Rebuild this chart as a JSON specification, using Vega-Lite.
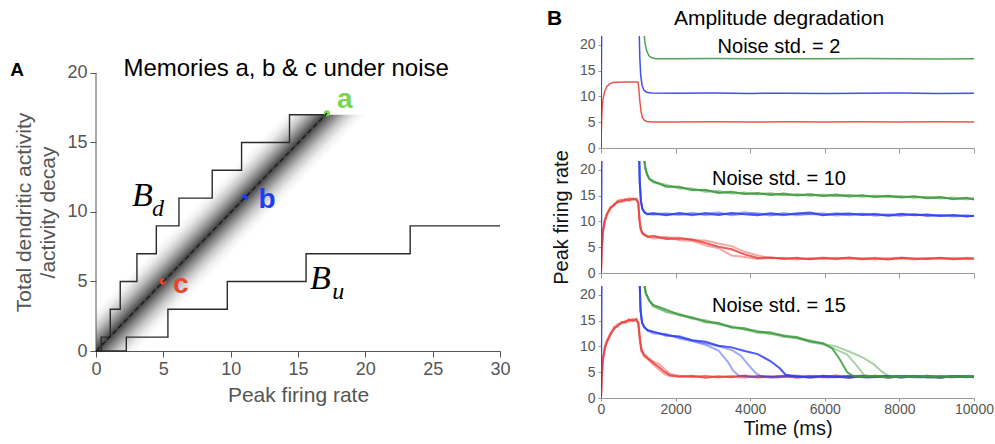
{
"$schema":"https://vega.github.io/schema/vega-lite/v6.json",
"padding":{"left":10,"top":7,"right":0,"bottom":0},
"config":{"view":{"stroke":null},"font":"Liberation Sans","axis":{"grid":false,"labelFlush":false,"titleFontWeight":"normal"}},
"spacing":35,
"datasets":{
"s1c":[{"t":0,"v":0},{"t":10,"v":3.8},{"t":25,"v":7},{"t":50,"v":9.3},{"t":100,"v":11},{"t":160,"v":11.9},{"t":230,"v":12.4},{"t":320,"v":12.7},{"t":450,"v":12.75},{"t":700,"v":12.78},{"t":990,"v":12.76},{"t":1010,"v":11.8},{"t":1040,"v":9.2},{"t":1075,"v":7},{"t":1110,"v":5.9},{"t":1160,"v":5.4},{"t":1230,"v":5.15},{"t":1350,"v":5.05},{"t":2000,"v":5.04},{"t":3000,"v":5.08},{"t":4000,"v":5.02},{"t":5000,"v":5.06},{"t":6000,"v":5.03},{"t":7000,"v":5.07},{"t":8000,"v":5.02},{"t":9000,"v":5.06},{"t":10000,"v":5.04}],
"s1b":[{"t":0,"v":0},{"t":30,"v":40},{"t":1000,"v":40},{"t":1020,"v":24},{"t":1040,"v":17.5},{"t":1065,"v":14},{"t":1100,"v":12.2},{"t":1150,"v":11.2},{"t":1220,"v":10.8},{"t":1350,"v":10.65},{"t":2000,"v":10.6},{"t":3000,"v":10.63},{"t":4000,"v":10.57},{"t":5000,"v":10.62},{"t":6000,"v":10.57},{"t":7000,"v":10.61},{"t":8000,"v":10.63},{"t":9000,"v":10.57},{"t":10000,"v":10.6}],
"s1a":[{"t":1100,"v":40},{"t":1150,"v":22.5},{"t":1180,"v":20.3},{"t":1220,"v":18.9},{"t":1280,"v":17.9},{"t":1360,"v":17.45},{"t":1480,"v":17.3},{"t":2000,"v":17.28},{"t":3000,"v":17.31},{"t":4000,"v":17.26},{"t":5000,"v":17.3},{"t":6000,"v":17.26},{"t":7000,"v":17.31},{"t":8000,"v":17.27},{"t":9000,"v":17.25},{"t":10000,"v":17.28}],
"s2c1":[{"t":0,"v":0},{"t":20,"v":4.6},{"t":50,"v":7.9},{"t":100,"v":10.1},{"t":160,"v":11.5},{"t":250,"v":12.6},{"t":350,"v":13.2},{"t":450,"v":13.9},{"t":550,"v":13.8},{"t":650,"v":14.3},{"t":750,"v":14.0},{"t":850,"v":14.4},{"t":950,"v":14.2},{"t":1000,"v":13.6},{"t":1030,"v":10.4},{"t":1060,"v":8.7},{"t":1100,"v":7.8},{"t":1170,"v":7.4},{"t":1250,"v":7.0},{"t":1400,"v":7.1},{"t":1750,"v":6.6},{"t":2100,"v":6.7},{"t":2450,"v":6.5},{"t":2800,"v":5.8},{"t":3150,"v":5.1},{"t":3500,"v":4.6},{"t":3850,"v":3.6},{"t":4200,"v":2.9},{"t":4550,"v":3.0},{"t":4900,"v":2.7},{"t":5250,"v":2.95},{"t":5600,"v":2.65},{"t":5950,"v":2.9},{"t":6300,"v":2.75},{"t":6650,"v":3.0},{"t":7000,"v":2.65},{"t":7350,"v":2.85},{"t":7700,"v":2.6},{"t":8050,"v":2.95},{"t":8400,"v":2.8},{"t":8750,"v":2.7},{"t":9100,"v":2.95},{"t":9450,"v":2.65},{"t":9800,"v":2.85},{"t":10000,"v":2.75}],
"s2c2":[{"t":0,"v":0},{"t":20,"v":4.3},{"t":50,"v":7.6},{"t":100,"v":9.8},{"t":160,"v":11.2},{"t":250,"v":12.3},{"t":350,"v":13.4},{"t":450,"v":13.6},{"t":550,"v":14.1},{"t":650,"v":13.9},{"t":750,"v":14.4},{"t":850,"v":14.1},{"t":950,"v":14.5},{"t":1000,"v":13.8},{"t":1030,"v":10.7},{"t":1060,"v":8.9},{"t":1100,"v":7.6},{"t":1170,"v":7.2},{"t":1250,"v":7.2},{"t":1400,"v":6.7},{"t":1750,"v":6.95},{"t":2100,"v":6.35},{"t":2450,"v":6.2},{"t":2800,"v":5.35},{"t":3150,"v":4.8},{"t":3500,"v":3.4},{"t":3850,"v":3.1},{"t":4200,"v":2.7},{"t":4550,"v":2.95},{"t":4900,"v":2.85},{"t":5250,"v":2.6},{"t":5600,"v":2.9},{"t":5950,"v":2.7},{"t":6300,"v":2.95},{"t":6650,"v":2.75},{"t":7000,"v":2.85},{"t":7350,"v":2.6},{"t":7700,"v":2.9},{"t":8050,"v":2.95},{"t":8400,"v":2.7},{"t":8750,"v":2.85},{"t":9100,"v":2.75},{"t":9450,"v":2.95},{"t":9800,"v":2.65},{"t":10000,"v":2.8}],
"s2c3":[{"t":0,"v":0},{"t":20,"v":4.8},{"t":50,"v":8.0},{"t":100,"v":10.3},{"t":160,"v":11.3},{"t":250,"v":12.8},{"t":350,"v":13.0},{"t":450,"v":14.0},{"t":550,"v":14.2},{"t":650,"v":14.0},{"t":750,"v":14.5},{"t":850,"v":14.3},{"t":950,"v":14.1},{"t":1000,"v":13.5},{"t":1030,"v":10.2},{"t":1060,"v":8.5},{"t":1100,"v":7.9},{"t":1170,"v":7.5},{"t":1250,"v":6.9},{"t":1400,"v":7.2},{"t":1750,"v":6.8},{"t":2100,"v":6.85},{"t":2450,"v":6.4},{"t":2800,"v":6.3},{"t":3150,"v":5.7},{"t":3500,"v":5.2},{"t":3850,"v":4.1},{"t":4200,"v":3.4},{"t":4550,"v":2.85},{"t":4900,"v":2.95},{"t":5250,"v":2.75},{"t":5600,"v":2.7},{"t":5950,"v":3.0},{"t":6300,"v":2.65},{"t":6650,"v":2.85},{"t":7000,"v":2.8},{"t":7350,"v":2.95},{"t":7700,"v":2.7},{"t":8050,"v":2.8},{"t":8400,"v":2.6},{"t":8750,"v":2.9},{"t":9100,"v":2.8},{"t":9450,"v":2.7},{"t":9800,"v":2.95},{"t":10000,"v":2.8}],
"s2b1":[{"t":0,"v":0},{"t":30,"v":40},{"t":1000,"v":40},{"t":1020,"v":24},{"t":1040,"v":17.5},{"t":1070,"v":13.9},{"t":1110,"v":12.4},{"t":1170,"v":11.7},{"t":1250,"v":11.4},{"t":1400,"v":11.5},{"t":1750,"v":11.2},{"t":2100,"v":11.6},{"t":2450,"v":11.3},{"t":2800,"v":11.55},{"t":3150,"v":11.25},{"t":3500,"v":11.6},{"t":3850,"v":11.35},{"t":4200,"v":11.2},{"t":4550,"v":11.55},{"t":4900,"v":11.3},{"t":5250,"v":11.45},{"t":5600,"v":11.7},{"t":5950,"v":11.2},{"t":6300,"v":11.4},{"t":6650,"v":11.5},{"t":7000,"v":11.25},{"t":7350,"v":11.35},{"t":7700,"v":11.1},{"t":8050,"v":11.45},{"t":8400,"v":11.2},{"t":8750,"v":11.3},{"t":9100,"v":11.05},{"t":9450,"v":11.25},{"t":9800,"v":10.95},{"t":10000,"v":11.1}],
"s2b2":[{"t":1000,"v":40},{"t":1020,"v":24},{"t":1040,"v":17.5},{"t":1070,"v":13.9},{"t":1110,"v":12.4},{"t":1170,"v":11.7},{"t":1250,"v":11.4},{"t":1400,"v":11.3},{"t":1750,"v":11.55},{"t":2100,"v":11.25},{"t":2450,"v":11.65},{"t":2800,"v":11.2},{"t":3150,"v":11.45},{"t":3500,"v":11.35},{"t":3850,"v":11.75},{"t":4200,"v":11.4},{"t":4550,"v":11.15},{"t":4900,"v":11.6},{"t":5250,"v":11.2},{"t":5600,"v":11.4},{"t":5950,"v":11.55},{"t":6300,"v":11.15},{"t":6650,"v":11.3},{"t":7000,"v":11.5},{"t":7350,"v":11.1},{"t":7700,"v":11.35},{"t":8050,"v":11.2},{"t":8400,"v":11.4},{"t":8750,"v":11.0},{"t":9100,"v":11.25},{"t":9450,"v":11.1},{"t":9800,"v":11.2},{"t":10000,"v":11.0}],
"s2b3":[{"t":1000,"v":40},{"t":1020,"v":24},{"t":1040,"v":17.5},{"t":1070,"v":13.9},{"t":1110,"v":12.4},{"t":1170,"v":11.7},{"t":1250,"v":11.4},{"t":1400,"v":11.6},{"t":1750,"v":11.35},{"t":2100,"v":11.4},{"t":2450,"v":11.2},{"t":2800,"v":11.5},{"t":3150,"v":11.7},{"t":3500,"v":11.2},{"t":3850,"v":11.45},{"t":4200,"v":11.55},{"t":4550,"v":11.3},{"t":4900,"v":11.2},{"t":5250,"v":11.6},{"t":5600,"v":11.35},{"t":5950,"v":11.3},{"t":6300,"v":11.55},{"t":6650,"v":11.2},{"t":7000,"v":11.4},{"t":7350,"v":11.45},{"t":7700,"v":11.2},{"t":8050,"v":11.1},{"t":8400,"v":11.35},{"t":8750,"v":11.15},{"t":9100,"v":11.2},{"t":9450,"v":10.95},{"t":9800,"v":11.1},{"t":10000,"v":11.05}],
"s2a1":[{"t":1100,"v":40},{"t":1150,"v":22.5},{"t":1190,"v":20.2},{"t":1240,"v":19.0},{"t":1300,"v":18.2},{"t":1400,"v":17.8},{"t":1750,"v":16.7},{"t":2100,"v":16.7},{"t":2450,"v":16.0},{"t":2800,"v":16.1},{"t":3150,"v":15.5},{"t":3500,"v":15.75},{"t":3850,"v":15.3},{"t":4200,"v":15.5},{"t":4550,"v":15.1},{"t":4900,"v":15.4},{"t":5250,"v":15.0},{"t":5600,"v":15.25},{"t":5950,"v":14.9},{"t":6300,"v":15.2},{"t":6650,"v":14.8},{"t":7000,"v":15.05},{"t":7350,"v":14.7},{"t":7700,"v":14.95},{"t":8050,"v":14.6},{"t":8400,"v":14.85},{"t":8750,"v":14.45},{"t":9100,"v":14.7},{"t":9450,"v":14.3},{"t":9800,"v":14.55},{"t":10000,"v":14.2}],
"s2a2":[{"t":1100,"v":40},{"t":1150,"v":22.5},{"t":1190,"v":20.2},{"t":1240,"v":19.0},{"t":1300,"v":18.2},{"t":1400,"v":17.5},{"t":1750,"v":17.1},{"t":2100,"v":16.3},{"t":2450,"v":16.35},{"t":2800,"v":15.7},{"t":3150,"v":15.9},{"t":3500,"v":15.35},{"t":3850,"v":15.6},{"t":4200,"v":15.2},{"t":4550,"v":15.45},{"t":4900,"v":15.05},{"t":5250,"v":15.3},{"t":5600,"v":14.9},{"t":5950,"v":15.2},{"t":6300,"v":14.85},{"t":6650,"v":15.1},{"t":7000,"v":14.75},{"t":7350,"v":15.0},{"t":7700,"v":14.65},{"t":8050,"v":14.9},{"t":8400,"v":14.55},{"t":8750,"v":14.75},{"t":9100,"v":14.4},{"t":9450,"v":14.6},{"t":9800,"v":14.25},{"t":10000,"v":14.45}],
"s2a3":[{"t":1100,"v":40},{"t":1150,"v":22.5},{"t":1190,"v":20.2},{"t":1240,"v":19.0},{"t":1300,"v":18.2},{"t":1400,"v":17.7},{"t":1750,"v":16.85},{"t":2100,"v":16.6},{"t":2450,"v":16.2},{"t":2800,"v":15.95},{"t":3150,"v":15.65},{"t":3500,"v":15.6},{"t":3850,"v":15.4},{"t":4200,"v":15.3},{"t":4550,"v":15.35},{"t":4900,"v":15.15},{"t":5250,"v":15.1},{"t":5600,"v":15.2},{"t":5950,"v":15.0},{"t":6300,"v":14.95},{"t":6650,"v":15.05},{"t":7000,"v":14.9},{"t":7350,"v":14.8},{"t":7700,"v":14.9},{"t":8050,"v":14.7},{"t":8400,"v":14.75},{"t":8750,"v":14.55},{"t":9100,"v":14.6},{"t":9450,"v":14.4},{"t":9800,"v":14.45},{"t":10000,"v":14.3}],
"s3c1":[{"t":0,"v":0},{"t":20,"v":4.0},{"t":50,"v":7.3},{"t":100,"v":9.6},{"t":150,"v":10.6},{"t":250,"v":12.3},{"t":350,"v":13.5},{"t":450,"v":13.9},{"t":550,"v":14.7},{"t":650,"v":14.6},{"t":750,"v":15.2},{"t":850,"v":14.9},{"t":950,"v":15.3},{"t":1000,"v":14.5},{"t":1040,"v":11.6},{"t":1080,"v":9.4},{"t":1150,"v":8.3},{"t":1250,"v":7.7},{"t":1400,"v":6.8},{"t":1550,"v":6.0},{"t":1700,"v":5.1},{"t":1850,"v":4.4},{"t":2100,"v":4.1},{"t":2450,"v":4.3},{"t":2800,"v":3.9},{"t":3150,"v":4.2},{"t":3500,"v":4.0},{"t":3850,"v":4.35},{"t":4200,"v":3.95},{"t":4550,"v":4.15},{"t":4900,"v":4.3},{"t":5250,"v":3.9},{"t":5600,"v":4.2},{"t":5950,"v":4.05},{"t":6300,"v":4.35},{"t":6650,"v":3.95},{"t":7000,"v":4.15},{"t":7350,"v":4.25},{"t":7700,"v":3.9},{"t":8050,"v":4.2},{"t":8400,"v":4.1},{"t":8750,"v":4.3},{"t":9100,"v":3.95},{"t":9450,"v":4.2},{"t":9800,"v":4.05},{"t":10000,"v":4.15}],
"s3c2":[{"t":0,"v":0},{"t":20,"v":4.4},{"t":50,"v":7.7},{"t":100,"v":9.3},{"t":150,"v":11.0},{"t":250,"v":12.0},{"t":350,"v":13.8},{"t":450,"v":14.2},{"t":550,"v":14.4},{"t":650,"v":15.0},{"t":750,"v":14.8},{"t":850,"v":15.3},{"t":950,"v":15.0},{"t":1000,"v":14.3},{"t":1040,"v":11.2},{"t":1080,"v":9.0},{"t":1150,"v":8.6},{"t":1250,"v":7.9},{"t":1400,"v":7.1},{"t":1550,"v":6.6},{"t":1700,"v":5.6},{"t":1850,"v":4.7},{"t":2100,"v":4.3},{"t":2450,"v":4.0},{"t":2800,"v":4.25},{"t":3150,"v":3.95},{"t":3500,"v":4.3},{"t":3850,"v":4.1},{"t":4200,"v":4.2},{"t":4550,"v":3.9},{"t":4900,"v":4.15},{"t":5250,"v":4.35},{"t":5600,"v":4.0},{"t":5950,"v":4.2},{"t":6300,"v":3.95},{"t":6650,"v":4.25},{"t":7000,"v":4.05},{"t":7350,"v":4.3},{"t":7700,"v":4.1},{"t":8050,"v":3.95},{"t":8400,"v":4.25},{"t":8750,"v":4.0},{"t":9100,"v":4.3},{"t":9450,"v":4.05},{"t":9800,"v":4.2},{"t":10000,"v":4.1}],
"s3c3":[{"t":0,"v":0},{"t":20,"v":3.8},{"t":50,"v":7.0},{"t":100,"v":9.9},{"t":150,"v":10.9},{"t":250,"v":12.6},{"t":350,"v":13.2},{"t":450,"v":14.3},{"t":550,"v":14.5},{"t":650,"v":14.8},{"t":750,"v":15.0},{"t":850,"v":15.2},{"t":950,"v":14.9},{"t":1000,"v":14.7},{"t":1040,"v":12.0},{"t":1080,"v":9.7},{"t":1150,"v":8.1},{"t":1250,"v":7.5},{"t":1400,"v":6.5},{"t":1550,"v":5.5},{"t":1700,"v":4.6},{"t":1850,"v":4.2},{"t":2100,"v":4.2},{"t":2450,"v":4.05},{"t":2800,"v":4.3},{"t":3150,"v":4.0},{"t":3500,"v":4.15},{"t":3850,"v":3.9},{"t":4200,"v":4.3},{"t":4550,"v":4.1},{"t":4900,"v":4.0},{"t":5250,"v":4.2},{"t":5600,"v":4.3},{"t":5950,"v":3.95},{"t":6300,"v":4.1},{"t":6650,"v":4.2},{"t":7000,"v":4.35},{"t":7350,"v":4.0},{"t":7700,"v":4.15},{"t":8050,"v":4.3},{"t":8400,"v":3.95},{"t":8750,"v":4.2},{"t":9100,"v":4.1},{"t":9450,"v":3.95},{"t":9800,"v":4.25},{"t":10000,"v":4.1}],
"s3b1":[{"t":0,"v":0},{"t":30,"v":40},{"t":1000,"v":40},{"t":1030,"v":24},{"t":1060,"v":17},{"t":1100,"v":14.6},{"t":1160,"v":13.7},{"t":1250,"v":13.1},{"t":1400,"v":12.8},{"t":1750,"v":12.2},{"t":2100,"v":11.8},{"t":2450,"v":11.2},{"t":2800,"v":10.9},{"t":3150,"v":10.1},{"t":3500,"v":9.8},{"t":3850,"v":9.1},{"t":4200,"v":8.5},{"t":4550,"v":7.1},{"t":4800,"v":5.7},{"t":4950,"v":4.5},{"t":5250,"v":4.2},{"t":5600,"v":3.95},{"t":5950,"v":4.3},{"t":6300,"v":4.1},{"t":6650,"v":3.9},{"t":7000,"v":4.25},{"t":7350,"v":4.05},{"t":7700,"v":4.3},{"t":8050,"v":3.95},{"t":8400,"v":4.2},{"t":8750,"v":4.05},{"t":9100,"v":3.9},{"t":9450,"v":4.25},{"t":9800,"v":4.0},{"t":10000,"v":4.15}],
"s3b2":[{"t":1000,"v":40},{"t":1030,"v":24},{"t":1060,"v":17},{"t":1100,"v":14.6},{"t":1160,"v":13.7},{"t":1250,"v":13.1},{"t":1400,"v":12.5},{"t":1750,"v":12.4},{"t":2100,"v":11.5},{"t":2450,"v":11.0},{"t":2800,"v":10.3},{"t":3150,"v":9.2},{"t":3400,"v":7.0},{"t":3550,"v":5.2},{"t":3700,"v":4.3},{"t":4000,"v":4.05},{"t":4350,"v":4.25},{"t":4700,"v":3.95},{"t":5050,"v":4.2},{"t":5400,"v":4.05},{"t":5750,"v":4.3},{"t":6100,"v":3.95},{"t":6450,"v":4.15},{"t":6800,"v":4.3},{"t":7150,"v":3.9},{"t":7500,"v":4.2},{"t":7850,"v":4.1},{"t":8200,"v":4.3},{"t":8550,"v":3.95},{"t":8900,"v":4.2},{"t":9250,"v":4.05},{"t":9600,"v":4.25},{"t":10000,"v":4.0}],
"s3b3":[{"t":1000,"v":40},{"t":1030,"v":24},{"t":1060,"v":17},{"t":1100,"v":14.6},{"t":1160,"v":13.7},{"t":1250,"v":13.1},{"t":1400,"v":12.9},{"t":1750,"v":12.0},{"t":2100,"v":12.0},{"t":2450,"v":11.1},{"t":2800,"v":10.6},{"t":3150,"v":10.0},{"t":3500,"v":9.3},{"t":3750,"v":8.2},{"t":3950,"v":6.4},{"t":4150,"v":4.8},{"t":4300,"v":4.2},{"t":4600,"v":4.0},{"t":4950,"v":4.3},{"t":5300,"v":4.1},{"t":5650,"v":3.9},{"t":6000,"v":4.2},{"t":6350,"v":4.05},{"t":6700,"v":4.3},{"t":7050,"v":3.95},{"t":7400,"v":4.15},{"t":7750,"v":4.0},{"t":8100,"v":4.25},{"t":8450,"v":4.1},{"t":8800,"v":3.95},{"t":9150,"v":4.2},{"t":9500,"v":4.05},{"t":9850,"v":4.3},{"t":10000,"v":4.1}],
"s3a1":[{"t":1100,"v":40},{"t":1150,"v":22.5},{"t":1200,"v":20.3},{"t":1300,"v":18.8},{"t":1400,"v":18.0},{"t":1750,"v":17.1},{"t":2100,"v":16.1},{"t":2450,"v":15.6},{"t":2800,"v":14.8},{"t":3150,"v":14.5},{"t":3500,"v":13.7},{"t":3850,"v":13.5},{"t":4200,"v":12.8},{"t":4550,"v":12.7},{"t":4900,"v":12.0},{"t":5250,"v":11.8},{"t":5600,"v":11.0},{"t":5950,"v":10.6},{"t":6200,"v":9.6},{"t":6400,"v":7.5},{"t":6600,"v":5.0},{"t":6750,"v":4.3},{"t":7000,"v":4.1},{"t":7350,"v":4.3},{"t":7700,"v":3.95},{"t":8050,"v":4.2},{"t":8400,"v":4.05},{"t":8750,"v":4.3},{"t":9100,"v":3.95},{"t":9450,"v":4.2},{"t":9800,"v":4.05},{"t":10000,"v":4.15}],
"s3a2":[{"t":1100,"v":40},{"t":1150,"v":22.5},{"t":1200,"v":20.3},{"t":1300,"v":18.8},{"t":1400,"v":17.7},{"t":1750,"v":16.8},{"t":2100,"v":16.3},{"t":2450,"v":15.3},{"t":2800,"v":15.1},{"t":3150,"v":14.2},{"t":3500,"v":13.9},{"t":3850,"v":13.2},{"t":4200,"v":13.0},{"t":4550,"v":12.4},{"t":4900,"v":12.2},{"t":5250,"v":11.5},{"t":5600,"v":11.2},{"t":5950,"v":10.5},{"t":6300,"v":10.0},{"t":6650,"v":9.0},{"t":7000,"v":7.9},{"t":7300,"v":6.6},{"t":7550,"v":5.0},{"t":7700,"v":4.3},{"t":8050,"v":4.05},{"t":8400,"v":4.3},{"t":8750,"v":3.95},{"t":9100,"v":4.2},{"t":9450,"v":4.1},{"t":9800,"v":4.25},{"t":10000,"v":4.05}],
"s3a3":[{"t":1100,"v":40},{"t":1150,"v":22.5},{"t":1200,"v":20.3},{"t":1300,"v":18.8},{"t":1400,"v":17.9},{"t":1750,"v":16.6},{"t":2100,"v":16.0},{"t":2450,"v":15.5},{"t":2800,"v":14.6},{"t":3150,"v":14.4},{"t":3500,"v":13.6},{"t":3850,"v":13.3},{"t":4200,"v":12.6},{"t":4550,"v":12.5},{"t":4900,"v":11.8},{"t":5250,"v":11.6},{"t":5600,"v":10.8},{"t":5950,"v":10.4},{"t":6300,"v":9.4},{"t":6600,"v":8.4},{"t":6850,"v":6.3},{"t":7050,"v":4.5},{"t":7200,"v":4.2},{"t":7550,"v":4.0},{"t":7900,"v":4.3},{"t":8250,"v":4.05},{"t":8600,"v":4.2},{"t":8950,"v":3.95},{"t":9300,"v":4.25},{"t":9650,"v":4.05},{"t":10000,"v":4.2}]
},
"hconcat":[
{
"width":404,"height":315,
"layer":[
{
"encoding":{
"x":{"field":"x","type":"quantitative","scale":{"domain":[0,30],"nice":false},"axis":{"values":[0,5,10,15,20,25,30],"tickCount":20,"title":"Peak firing rate","titleFontSize":21,"titleColor":"#555","titlePadding":6,"labelFontSize":18,"labelColor":"#555","tickSize":6,"tickColor":"#555","domainColor":"#555","labelPadding":3}},
"y":{"field":"y","type":"quantitative","scale":{"domain":[0,22.66],"nice":false},"axis":{"values":[0,5,10,15,20],"tickCount":20,"domain":false,"title":["Total dendritic activity","/activity decay"],"titleY":176,"titleFontSize":21,"titleColor":"#555","titleLineHeight":24,"titlePadding":8,"labelFontSize":18,"labelColor":"#555","tickSize":6,"tickColor":"#555","labelPadding":3}}
},
"layer":[
{"data":{"values":[{"x":0,"y":3,"y0":0},{"x":3,"y":6,"y0":0},{"x":14,"y":17,"y0":11},{"x":20,"y":17,"y0":17}]},
 "mark":{"type":"area","color":{"gradient":"linear","x1":0,"y1":0.8235,"x2":0.174,"y2":0.9716,"stops":[{"offset":0,"color":"#ffffff"},{"offset":0.12,"color":"#eeeeee"},{"offset":0.25,"color":"#c4c4c4"},{"offset":0.38,"color":"#848484"},{"offset":0.5,"color":"#404040"},{"offset":0.62,"color":"#848484"},{"offset":0.75,"color":"#c4c4c4"},{"offset":0.88,"color":"#eeeeee"},{"offset":1,"color":"#ffffff"}]}},
 "encoding":{"y2":{"field":"y0"}}},
{"data":{"values":[{"k":"Bd","x":0,"y":0},{"k":"Bd","x":0.39,"y":1},{"k":"Bd","x":1.06,"y":3},{"k":"Bd","x":1.8,"y":5},{"k":"Bd","x":3.04,"y":7},{"k":"Bd","x":4.48,"y":9},{"k":"Bd","x":6.16,"y":11},{"k":"Bd","x":8.63,"y":13},{"k":"Bd","x":10.81,"y":15},{"k":"Bd","x":14.37,"y":17},{"k":"Bd","x":17.1,"y":17},{"k":"Bu","x":0,"y":0},{"k":"Bu","x":2.25,"y":1},{"k":"Bu","x":5.34,"y":3},{"k":"Bu","x":9.75,"y":5},{"k":"Bu","x":15.6,"y":7},{"k":"Bu","x":23.33,"y":9},{"k":"Bu","x":30,"y":9}]},
 "mark":{"type":"line","interpolate":"step-after","color":"#2b2b2b","strokeWidth":1.4},
 "encoding":{"detail":{"field":"k"}}},
{"data":{"values":[{"n":"a","x":17.15,"y":17.1},{"n":"b","x":11.08,"y":11.08},{"n":"c","x":4.95,"y":5.0}]},
 "mark":{"type":"circle","size":38,"opacity":1},
 "encoding":{"color":{"field":"n","type":"nominal","scale":{"domain":["a","b","c"],"range":["#79d651","#1f3df5","#e8452c"]},"legend":null}}}
]
},
{"data":{"values":[{}]},"mark":{"type":"rule","color":"#555"},"encoding":{"x":{"datum":0},"y":{"datum":0},"y2":{"datum":20}}},
{"data":{"values":[{}]},"mark":{"type":"rule","color":"#1a1a1a","strokeDash":[5,3],"strokeWidth":1.3},"encoding":{"x":{"datum":0},"y":{"datum":0},"x2":{"datum":17.15},"y2":{"datum":17.1}}},
{"data":{"values":[{}]},"mark":{"type":"text","fontSize":28,"fontWeight":"bold","align":"left","baseline":"alphabetic","color":"#79d651"},"encoding":{"x":{"datum":17.9},"y":{"datum":17.5},"text":{"value":"a"}}},
{"data":{"values":[{}]},"mark":{"type":"text","fontSize":28,"fontWeight":"bold","align":"left","baseline":"alphabetic","color":"#1f3df5"},"encoding":{"x":{"datum":12.07},"y":{"datum":10.31},"text":{"value":"b"}}},
{"data":{"values":[{}]},"mark":{"type":"text","fontSize":28,"fontWeight":"bold","align":"left","baseline":"alphabetic","color":"#e8452c"},"encoding":{"x":{"datum":5.72},"y":{"datum":4.19},"text":{"value":"c"}}},
{"data":{"values":[{}]},"mark":{"type":"text","font":"Liberation Serif","fontStyle":"italic","fontSize":34,"align":"left","baseline":"alphabetic","color":"#000"},"encoding":{"x":{"datum":2.67},"y":{"datum":10.43},"text":{"value":"B"}}},
{"data":{"values":[{}]},"mark":{"type":"text","font":"Liberation Serif","fontStyle":"italic","fontSize":24,"align":"left","baseline":"alphabetic","color":"#000"},"encoding":{"x":{"datum":4.16},"y":{"datum":9.71},"text":{"value":"d"}}},
{"data":{"values":[{}]},"mark":{"type":"text","font":"Liberation Serif","fontStyle":"italic","fontSize":34,"align":"left","baseline":"alphabetic","color":"#000"},"encoding":{"x":{"datum":15.9},"y":{"datum":4.46},"text":{"value":"B"}}},
{"data":{"values":[{}]},"mark":{"type":"text","font":"Liberation Serif","fontStyle":"italic","fontSize":24,"align":"left","baseline":"alphabetic","color":"#000"},"encoding":{"x":{"datum":17.54},"y":{"datum":3.74},"text":{"value":"u"}}},
{"data":{"values":[{}]},"mark":{"type":"text","fontSize":19,"fontWeight":"bold","align":"left","baseline":"alphabetic","color":"#000"},"encoding":{"x":{"datum":-6.36},"y":{"datum":19.78},"text":{"value":"A"}}},
{"data":{"values":[{}]},"mark":{"type":"text","fontSize":24,"align":"center","baseline":"alphabetic","color":"#000"},"encoding":{"x":{"datum":14.12},"y":{"datum":19.78},"text":{"value":"Memories a, b & c under noise"}}}
]
},
{
"spacing":13,
"bounds":"flush",
"vconcat":[
{
"width":373,"height":112,
"layer":[
{
"encoding":{
"x":{"field":"t","type":"quantitative","scale":{"domain":[0,10000],"nice":false},"axis":{"values":[0,2000,4000,6000,8000,10000],"tickCount":20,"labels":false,"title":null,"tickSize":5,"tickColor":"#999","domainColor":"#999"}},
"y":{"field":"v","type":"quantitative","scale":{"domain":[0,21.68],"nice":false},"axis":{"values":[0,5,10,15,20],"tickCount":20,"title":null,"tickSize":3,"labelPadding":3,"labelFontSize":14,"labelColor":"#555","tickColor":"#999","domainColor":"#999"}}
},
"layer":[
{"data":{"name":"s1c"},"mark":{"type":"line","clip":true,"color":"#e8413c","opacity":0.9,"strokeWidth":1.5},"encoding":{}},
{"data":{"name":"s1b"},"mark":{"type":"line","clip":true,"color":"#2b3df0","opacity":0.9,"strokeWidth":1.5},"encoding":{}},
{"data":{"name":"s1a"},"mark":{"type":"line","clip":true,"color":"#3d9a3d","opacity":0.9,"strokeWidth":1.5},"encoding":{}}
]
},
{"data":{"values":[{}]},"mark":{"type":"text","fontSize":20,"align":"center","baseline":"alphabetic","color":"#000"},"encoding":{"x":{"datum":4772},"y":{"datum":18.45},"text":{"value":"Noise std. = 2"}}},
{"data":{"values":[{}]},"mark":{"type":"text","fontSize":21,"align":"center","baseline":"alphabetic","color":"#000"},"encoding":{"x":{"datum":4772},"y":{"datum":23.81},"text":{"value":"Amplitude degradation"}}},
{"data":{"values":[{}]},"mark":{"type":"text","fontSize":21,"fontWeight":"bold","align":"left","baseline":"alphabetic","color":"#000"},"encoding":{"x":{"datum":-1448},"y":{"datum":23.81},"text":{"value":"B"}}}
]
},
{
"width":373,"height":112,
"layer":[
{
"encoding":{
"x":{"field":"t","type":"quantitative","scale":{"domain":[0,10000],"nice":false},"axis":{"values":[0,2000,4000,6000,8000,10000],"tickCount":20,"labels":false,"title":null,"tickSize":5,"tickColor":"#999","domainColor":"#999"}},
"y":{"field":"v","type":"quantitative","scale":{"domain":[0,21.68],"nice":false},"axis":{"values":[0,5,10,15,20],"tickCount":20,"title":"Peak firing rate","titleFontSize":20,"titleColor":"#111","titlePadding":8,"tickSize":3,"labelPadding":3,"labelFontSize":14,"labelColor":"#555","tickColor":"#999","domainColor":"#999"}}
},
"layer":[
{"data":{"name":"s2c2"},"mark":{"type":"line","clip":true,"color":"#e8413c","opacity":0.45,"strokeWidth":2},"encoding":{}},
{"data":{"name":"s2c3"},"mark":{"type":"line","clip":true,"color":"#e8413c","opacity":0.45,"strokeWidth":2},"encoding":{}},
{"data":{"name":"s2c1"},"mark":{"type":"line","clip":true,"color":"#e8413c","opacity":0.85,"strokeWidth":2},"encoding":{}},
{"data":{"name":"s2b2"},"mark":{"type":"line","clip":true,"color":"#2b3df0","opacity":0.45,"strokeWidth":2},"encoding":{}},
{"data":{"name":"s2b3"},"mark":{"type":"line","clip":true,"color":"#2b3df0","opacity":0.45,"strokeWidth":2},"encoding":{}},
{"data":{"name":"s2b1"},"mark":{"type":"line","clip":true,"color":"#2b3df0","opacity":0.85,"strokeWidth":2},"encoding":{}},
{"data":{"name":"s2a2"},"mark":{"type":"line","clip":true,"color":"#3d9a3d","opacity":0.45,"strokeWidth":2},"encoding":{}},
{"data":{"name":"s2a3"},"mark":{"type":"line","clip":true,"color":"#3d9a3d","opacity":0.45,"strokeWidth":2},"encoding":{}},
{"data":{"name":"s2a1"},"mark":{"type":"line","clip":true,"color":"#3d9a3d","opacity":0.85,"strokeWidth":2},"encoding":{}}
]
},
{"data":{"values":[{}]},"mark":{"type":"text","fontSize":20,"align":"center","baseline":"alphabetic","color":"#000"},"encoding":{"x":{"datum":4772},"y":{"datum":17.03},"text":{"value":"Noise std. = 10"}}}
]
},
{
"width":373,"height":112,
"layer":[
{
"encoding":{
"x":{"field":"t","type":"quantitative","scale":{"domain":[0,10000],"nice":false},"axis":{"values":[0,2000,4000,6000,8000,10000],"tickCount":20,"format":"d","title":"Time (ms)","titleFontSize":20,"titleColor":"#111","titlePadding":2,"labelFontSize":14,"labelColor":"#555","labelPadding":1,"tickSize":3,"tickColor":"#999","domainColor":"#999"}},
"y":{"field":"v","type":"quantitative","scale":{"domain":[0,21.68],"nice":false},"axis":{"values":[0,5,10,15,20],"tickCount":20,"title":null,"tickSize":3,"labelPadding":3,"labelFontSize":14,"labelColor":"#555","tickColor":"#999","domainColor":"#999"}}
},
"layer":[
{"data":{"name":"s3c2"},"mark":{"type":"line","clip":true,"color":"#e8413c","opacity":0.45,"strokeWidth":2},"encoding":{}},
{"data":{"name":"s3c3"},"mark":{"type":"line","clip":true,"color":"#e8413c","opacity":0.45,"strokeWidth":2},"encoding":{}},
{"data":{"name":"s3c1"},"mark":{"type":"line","clip":true,"color":"#e8413c","opacity":0.85,"strokeWidth":2},"encoding":{}},
{"data":{"name":"s3b2"},"mark":{"type":"line","clip":true,"color":"#2b3df0","opacity":0.45,"strokeWidth":2},"encoding":{}},
{"data":{"name":"s3b3"},"mark":{"type":"line","clip":true,"color":"#2b3df0","opacity":0.45,"strokeWidth":2},"encoding":{}},
{"data":{"name":"s3b1"},"mark":{"type":"line","clip":true,"color":"#2b3df0","opacity":0.85,"strokeWidth":2},"encoding":{}},
{"data":{"name":"s3a2"},"mark":{"type":"line","clip":true,"color":"#3d9a3d","opacity":0.45,"strokeWidth":2},"encoding":{}},
{"data":{"name":"s3a3"},"mark":{"type":"line","clip":true,"color":"#3d9a3d","opacity":0.45,"strokeWidth":2},"encoding":{}},
{"data":{"name":"s3a1"},"mark":{"type":"line","clip":true,"color":"#3d9a3d","opacity":0.85,"strokeWidth":2},"encoding":{}}
]
},
{"data":{"values":[{}]},"mark":{"type":"text","fontSize":20,"align":"center","baseline":"alphabetic","color":"#000"},"encoding":{"x":{"datum":4772},"y":{"datum":16.59},"text":{"value":"Noise std. = 15"}}}
]
}
]
}
]
}
